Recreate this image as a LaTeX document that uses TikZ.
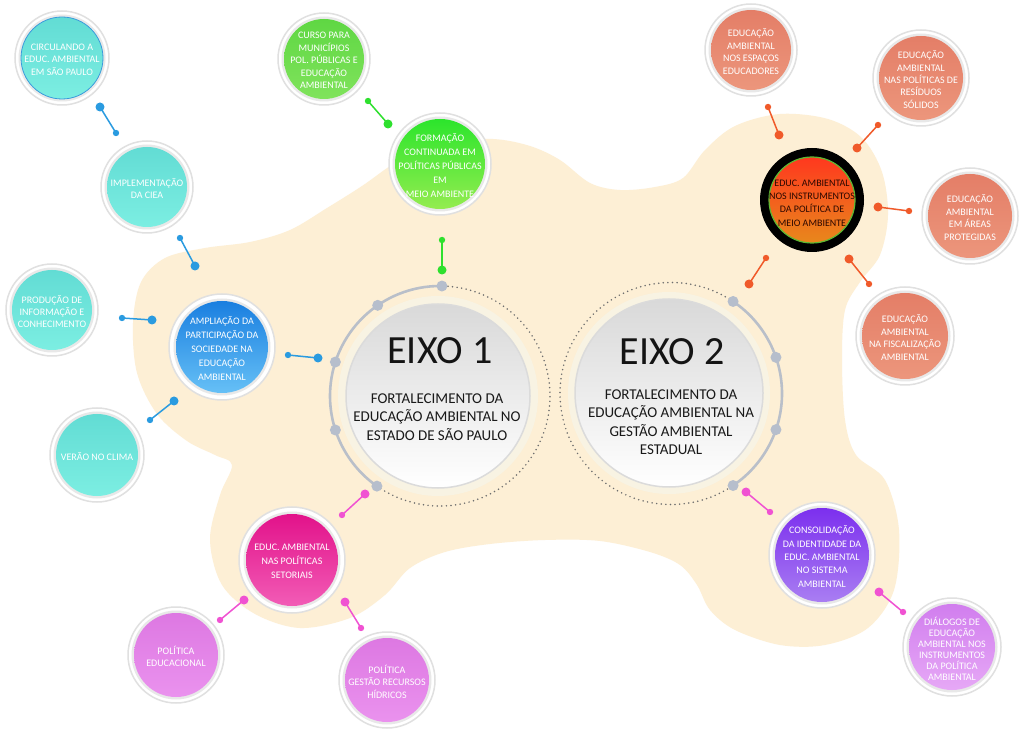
\documentclass[tikz,border=0pt]{standalone}
\usepackage{fontspec}
\setmainfont{Carlito}
\definecolor{beige}{HTML}{FDEFD5}
\definecolor{halo}{HTML}{F8F3E3}
\definecolor{cy1}{HTML}{62DCD4}
\definecolor{cy2}{HTML}{7CEEE2}
\definecolor{bl1}{HTML}{1A7FE0}
\definecolor{bl2}{HTML}{66C0F6}
\definecolor{cu1}{HTML}{5FD743}
\definecolor{cu2}{HTML}{80E35C}
\definecolor{fo1}{HTML}{2CE52C}
\definecolor{fo2}{HTML}{94EC50}
\definecolor{or1}{HTML}{FF381E}
\definecolor{or2}{HTML}{E8881C}
\definecolor{orgreen}{HTML}{5DB833}
\definecolor{maroon}{HTML}{2B0800}
\definecolor{sa1}{HTML}{E47E67}
\definecolor{sa2}{HTML}{EC967C}
\definecolor{mg1}{HTML}{E2128A}
\definecolor{mg2}{HTML}{F25CB6}
\definecolor{pk1}{HTML}{DD78E2}
\definecolor{pk2}{HTML}{EA92EE}
\definecolor{pu1}{HTML}{7C2FEE}
\definecolor{pu2}{HTML}{A97EF2}
\definecolor{di1}{HTML}{D17EEE}
\definecolor{di2}{HTML}{E6A8F6}
\definecolor{cblue}{HTML}{2A9BE0}
\definecolor{cgreen}{HTML}{2EE02E}
\definecolor{corange}{HTML}{F05A2A}
\definecolor{cpink}{HTML}{F052D2}
\definecolor{gdot}{HTML}{B6BECC}
\definecolor{garc}{HTML}{B9BFC9}
\definecolor{darc}{HTML}{6E6E6E}
\definecolor{blueline}{HTML}{3A9BDC}
\tikzset{
  ring/.style={circle, inner sep=0pt, fill=white, draw=black!12, line width=1.5pt},
  inring/.style={circle, inner sep=0pt, fill=black!9},
  disc/.style={circle, inner sep=0pt},
  txt/.style={align=center, text=white, inner sep=0pt},
  t11/.style={font=\fontsize{10}{11}\selectfont},
  t12/.style={font=\fontsize{10}{12.4}\selectfont},
  t13/.style={font=\fontsize{10}{13.4}\selectfont},
  t14/.style={font=\fontsize{10}{14}\selectfont},
  cyand/.style={top color=cy1, bottom color=cy2},
  blued/.style={top color=bl1, bottom color=bl2},
  cursod/.style={top color=cu1, bottom color=cu2},
  formd/.style={top color=fo1, bottom color=fo2},
  salm/.style={top color=sa1, bottom color=sa2},
  magd/.style={top color=mg1, bottom color=mg2},
  pinkd/.style={top color=pk1, bottom color=pk2},
  purpd/.style={top color=pu1, bottom color=pu2},
  diald/.style={top color=di1, bottom color=di2},
  halodisc/.style={circle, inner sep=0pt, fill=halo},
  eixodisc/.style={circle, inner sep=0pt, top color=black!15, middle color=black!3, bottom color=white, draw=black!14, line width=1.5pt},
  grayarc/.style={garc, line width=2.6pt},
  dotarc/.style={darc, line width=1.7pt, line cap=round, dash pattern=on 0pt off 4.6pt},
  conline/.style={line width=1.5pt},
  eixotitle/.style={font=\fontsize{40}{40}\selectfont, text=black!92, inner sep=0pt},
  eixosub/.style={align=center, font=\fontsize{15}{18.4}\selectfont, text=black!90, inner sep=0pt}
}
\newcommand{\mybub}[8]{%
  \node[ring, minimum size={2*#4pt}] (#1-o) at (#2,731-#3) {};
  \node[inring, minimum size={2*#5pt+5pt}] (#1-r) at (#1-o) {};
  \node[disc, minimum size={2*#5pt}, #6] (#1) at (#1-o) {};
  \node[txt, #7] (#1-t) at ([yshift=-1.5pt]#1) {#8};}
\newcommand{\myconn}[8]{%
  \coordinate (#1a) at (#3,731-#4);
  \coordinate (#1b) at (#6,731-#7);
  \draw[#2, conline] (#1a) -- (#1b);
  \fill[#2] (#1a) circle (#5pt);
  \fill[#2] (#1b) circle (#8pt);}
\begin{document}
\begin{tikzpicture}[x=1pt,y=1pt]
\useasboundingbox (0,0) rectangle (1024,731);
\fill[white] (0,0) rectangle (1024,731);
% background blob
\fill[beige] plot[smooth cycle, tension=0.55] coordinates {
 (133,731-323) (141,731-282) (165,731-258) (205,731-248) (250,731-242) (290,731-230)
 (327,731-208) (362,731-186) (400,731-160) (445,731-142) (493,731-139) (530,731-146)
 (560,731-160) (590,731-183) (620,731-190) (655,731-187) (683,731-178) (705,731-150)
 (735,731-126) (780,731-114) (828,731-119) (862,731-138) (882,731-172) (888,731-215)
 (880,731-255) (860,731-282) (845,731-310) (842,731-360) (845,731-420) (856,731-455)
 (885,731-480) (899,731-530) (894,731-590) (868,731-628) (825,731-645) (780,731-645)
 (735,731-630) (710,731-610) (697,731-585) (680,731-565) (650,731-552) (600,731-541)
 (545,731-540) (490,731-544) (445,731-552) (410,731-568) (385,731-595) (350,731-618)
 (300,731-628) (255,731-614) (222,731-585) (210,731-540) (220,731-495) (232,731-465)
 (215,731-455) (187,731-441) (157,731-414) (137,731-373)};
% EIXO 1
\coordinate (e1c) at (440,731-396);
\node[halodisc, minimum size=200pt] (e1h) at (438,731-396) {};
\node[eixodisc, minimum size=184pt] (e1) at (438,731-396) {};
\draw[grayarc] ([shift={(89:110)}]e1c) arc[start angle=89, end angle=235, radius=110pt];
\draw[dotarc] ([shift={(235:110)}]e1c) arc[start angle=235, end angle=449, radius=110pt];
\foreach \a in {89,124.5,162,198,235} \fill[gdot] ([shift={(\a:110)}]e1c) circle (5.5pt);
\node[eixotitle] (e1t) at (440,731-351) {EIXO 1};
\node[eixosub] (e1s) at (437,731-417) {FORTALECIMENTO DA\\EDUCAÇÃO AMBIENTAL NO\\ESTADO DE SÃO PAULO};
% EIXO 2
\coordinate (e2c) at (671,731-393.5);
\node[halodisc, minimum size=202pt] (e2h) at (669,731-393) {};
\node[eixodisc, minimum size=188pt] (e2) at (669,731-393) {};
\draw[grayarc] ([shift={(-56:111)}]e2c) arc[start angle=-56, end angle=56, radius=111pt];
\draw[dotarc] ([shift={(56:111)}]e2c) arc[start angle=56, end angle=304, radius=111pt];
\foreach \a in {56,19,-19,-56} \fill[gdot] ([shift={(\a:111)}]e2c) circle (5.5pt);
\node[eixotitle] (e2t) at (672,731-352) {EIXO 2};
\node[eixosub] (e2s) at (671,731-422) {FORTALECIMENTO DA\\EDUCAÇÃO AMBIENTAL NA\\GESTÃO AMBIENTAL\\ESTADUAL};
% connectors
\myconn{c1}{cblue}{100}{107}{4.5}{116}{133}{3.2}
\myconn{c2}{cblue}{180}{238}{3.2}{195}{266}{4.5}
\myconn{c3}{cblue}{122}{318}{3.2}{152}{320}{4.5}
\myconn{c4}{cblue}{288}{355}{3.2}{318}{358}{4.5}
\myconn{c5}{cblue}{174}{401}{4.5}{150}{420}{3.2}
\myconn{c6}{cgreen}{368}{101}{3.2}{388}{124}{4.5}
\myconn{c7}{cgreen}{442}{240}{3.2}{442}{270}{4.5}
\myconn{c8}{corange}{768}{107}{3.2}{779}{135}{4.5}
\myconn{c9}{corange}{878}{125}{3.2}{857}{148}{4.5}
\myconn{c10}{corange}{878}{207}{4.5}{909}{211}{3.2}
\myconn{c11}{corange}{766}{258}{3.2}{749}{284}{4.5}
\myconn{c12}{corange}{849}{259}{4.5}{869}{284}{3.2}
\myconn{c13}{cpink}{365}{494}{4.5}{342}{515}{3.2}
\myconn{c14}{cpink}{244}{600}{4.5}{220}{620}{3.2}
\myconn{c15}{cpink}{345}{602}{4.5}{361}{628}{3.2}
\myconn{c16}{cpink}{746}{492}{4.5}{770}{512}{3.2}
\myconn{c17}{cpink}{879}{592}{4.5}{903}{612}{3.2}
% bubbles
\mybub{circ}{62}{58}{47}{41}{cyand, draw=blueline, line width=0.8pt}{t12}{CIRCULANDO A\\EDUC. AMBIENTAL\\EM SÃO PAULO}
\mybub{ciea}{147}{187}{46}{40}{cyand}{t12}{IMPLEMENTAÇÃO\\DA CIEA}
\mybub{prod}{52}{310}{46}{40}{cyand}{t12}{PRODUÇÃO DE\\INFORMAÇÃO E\\CONHECIMENTO}
\mybub{verao}{97}{455}{47}{41}{cyand}{t12}{VERÃO NO CLIMA}
\mybub{ampl}{222}{347}{53}{46}{blued}{t14}{AMPLIAÇÃO DA\\PARTICIPAÇÃO DA\\SOCIEDADE NA\\EDUCAÇÃO\\AMBIENTAL}
\mybub{curso}{324}{59}{46}{40}{cursod}{t12}{CURSO PARA\\MUNICÍPIOS\\POL. PÚBLICAS E\\EDUCAÇÃO\\AMBIENTAL}
\mybub{form}{440}{164}{51}{45}{formd}{t14}{FORMAÇÃO\\CONTINUADA EM\\POLÍTICAS PÚBLICAS\\EM\\MEIO AMBIENTE}
\mybub{esp}{751}{50}{46}{40}{salm}{t12}{EDUCAÇÃO\\AMBIENTAL\\NOS ESPAÇOS\\EDUCADORES}
\mybub{res}{921}{78}{48}{42}{salm}{t12}{EDUCAÇÃO\\AMBIENTAL\\NAS POLÍTICAS DE\\RESÍDUOS\\SÓLIDOS}
\mybub{prot}{970}{216}{48}{42}{salm}{t12}{EDUCAÇÃO\\AMBIENTAL\\EM ÁREAS\\PROTEGIDAS}
\mybub{fisc}{905}{336}{49}{43}{salm}{t12}{EDUCAÇÃO\\AMBIENTAL\\NA FISCALIZAÇÃO\\AMBIENTAL}
\mybub{setor}{292}{560}{53}{46}{magd}{t14}{EDUC. AMBIENTAL\\NAS POLÍTICAS\\SETORIAIS}
\mybub{poled}{176}{655}{48}{42}{pinkd}{t12}{POLÍTICA\\EDUCACIONAL}
\mybub{polgest}{387}{680}{48}{42}{pinkd}{t12}{POLÍTICA\\GESTÃO RECURSOS\\HÍDRICOS}
\mybub{cons}{822}{555}{53}{47}{purpd}{t13}{CONSOLIDAÇÃO\\DA IDENTIDADE DA\\EDUC. AMBIENTAL\\NO SISTEMA\\AMBIENTAL}
\mybub{dial}{952}{647}{49}{43}{diald}{t11}{DIÁLOGOS DE\\EDUCAÇÃO\\AMBIENTAL NOS\\INSTRUMENTOS\\DA POLÍTICA\\AMBIENTAL}
% central orange node
\node[circle, inner sep=0pt, minimum size=104pt, fill=black] (inst-o) at (812,731-200) {};
\node[disc, minimum size=86pt, top color=or1, bottom color=or2, draw=orgreen, line width=1.2pt] (inst) at (inst-o) {};
\node[txt, t13, text=maroon] (inst-t) at ([yshift=-3pt]inst) {EDUC. AMBIENTAL\\NOS INSTRUMENTOS\\DA POLÍTICA DE\\MEIO AMBIENTE};
\end{tikzpicture}
\end{document}
